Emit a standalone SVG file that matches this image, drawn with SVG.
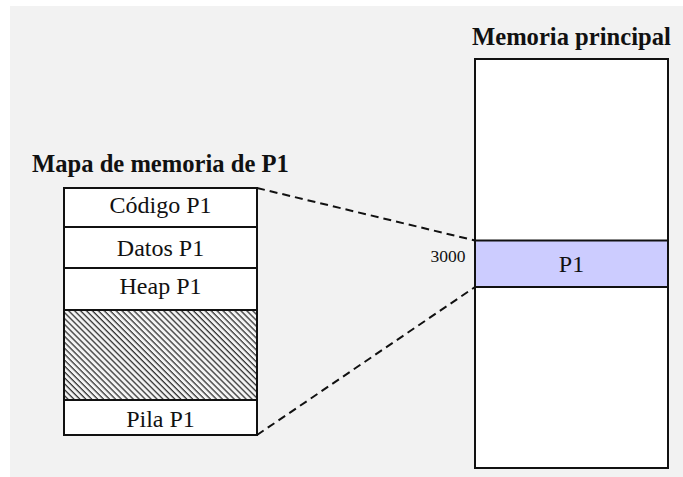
<svg xmlns="http://www.w3.org/2000/svg" width="683" height="477" viewBox="0 0 683 477">
<style>
.title{font-family:"Liberation Serif","Times New Roman",serif;font-weight:bold;font-size:24.6px;fill:#111}
.lbl{font-family:"Liberation Serif","Times New Roman",serif;font-size:24px;fill:#111;text-anchor:middle}
.small{font-family:"Liberation Serif","Times New Roman",serif;font-size:17.5px;fill:#111;text-anchor:end}
.box{fill:#fff;stroke:#111;stroke-width:2}
.conn{fill:none;stroke:#111;stroke-width:2;stroke-dasharray:8 5}
</style>
<defs>
<pattern id="hatch" patternUnits="userSpaceOnUse" width="4.2" height="4.2" patternTransform="rotate(-45)">
<rect width="4.2" height="4.2" fill="#f4f4f4"/>
<line x1="1" y1="0" x2="1" y2="4.2" stroke="#111" stroke-width="1.1"/>
</pattern>
</defs>
<rect x="10" y="6" width="673" height="471" fill="#f2f2f2"/>
<text class="title" x="32" y="172">Mapa de memoria de P1</text>
<text class="title" x="472" y="45">Memoria principal</text>
<g id="codigo"><rect class="box" x="64" y="188" width="193" height="39"/><text class="lbl" x="160.5" y="213">Código P1</text></g>
<g id="datos"><rect class="box" x="64" y="227" width="193" height="41"/><text class="lbl" x="160.5" y="255.5">Datos P1</text></g>
<g id="heap"><rect class="box" x="64" y="268" width="193" height="42"/><text class="lbl" x="160.5" y="294">Heap P1</text></g>
<g id="libre"><rect x="64" y="310" width="193" height="90" fill="url(#hatch)" stroke="#111" stroke-width="2"/></g>
<g id="pila"><rect class="box" x="64" y="400" width="193" height="35"/><text class="lbl" x="160.5" y="426.5">Pila P1</text></g>
<g id="memoria">
<rect class="box" x="475" y="59" width="193" height="409"/>
</g>
<g id="p1">
<rect x="475" y="240.5" width="193" height="46.5" fill="#ccccff" stroke="#111" stroke-width="2"/>
<text class="lbl" x="571.5" y="272">P1</text>
<text class="small" x="465.5" y="261.5">3000</text>
</g>
<g id="connectors">
<line class="conn" x1="257" y1="188" x2="475" y2="240.5"/>
<line class="conn" x1="257" y1="435" x2="475" y2="287"/>
</g>
</svg>
